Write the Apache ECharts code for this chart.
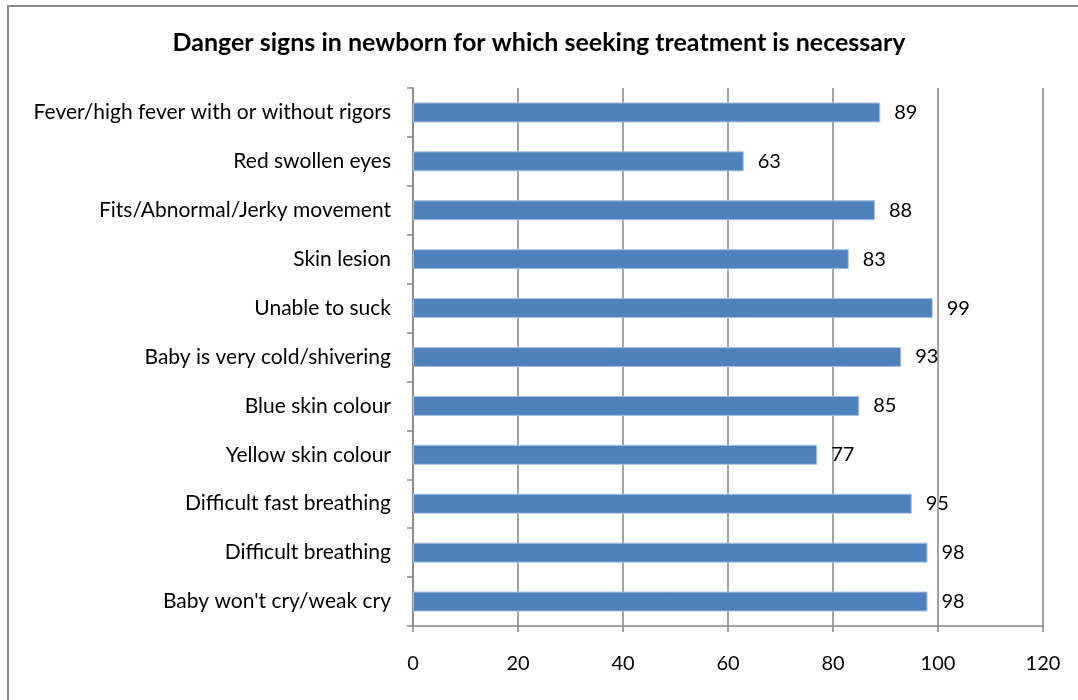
<!DOCTYPE html>
<html>
<head>
<meta charset="utf-8">
<script src="https://cdn.jsdelivr.net/npm/echarts@6/dist/echarts.min.js"></script>
<style>
  html, body { margin: 0; padding: 0; background: #fff; }
  #chart { width: 1078px; height: 700px; }
</style>
</head>
<body>
<div id="chart"></div>
<script>
// Danger signs, listed top to bottom
const categories = [
  'Fever/high fever with or without rigors',
  'Red swollen eyes',
  'Fits/Abnormal/Jerky movement',
  'Skin lesion',
  'Unable to suck',
  'Baby is very cold/shivering',
  'Blue skin colour',
  'Yellow skin colour',
  'Difficult fast breathing',
  'Difficult breathing',
  "Baby won't cry/weak cry"
];
// Percentage of respondents who would seek treatment
const values = [89, 63, 88, 83, 99, 93, 85, 77, 95, 98, 98];
const xTicks = { min: 0, max: 120, interval: 20 };

const font = 'Lato, "Open Sans", sans-serif';
const grey = '#868686';

const chart = echarts.init(document.getElementById('chart'));
chart.setOption({
  animation: false,
  backgroundColor: '#fff',
  title: {
    text: 'Danger signs in newborn for which seeking treatment is necessary',
    left: 'center',
    top: 25,
    textStyle: { fontFamily: font, fontSize: 25, fontWeight: 'bold', color: '#000' }
  },
  graphic: [{
    type: 'rect',
    shape: { x: 8, y: 6, width: 1090, height: 720 },
    style: { fill: 'none', stroke: '#8a8a8a', lineWidth: 2 },
    silent: true
  }],
  grid: { left: 413, right: 35, top: 88, bottom: 74 },
  xAxis: {
    type: 'value',
    min: xTicks.min,
    max: xTicks.max,
    interval: xTicks.interval,
    axisLine: { show: true, lineStyle: { color: grey, width: 1.5 } },
    axisTick: { show: true, length: 6, lineStyle: { color: grey, width: 1.5 } },
    splitLine: { show: true, lineStyle: { color: grey, width: 1.5 } },
    axisLabel: { margin: 28, fontFamily: font, fontSize: 20, color: '#000' }
  },
  yAxis: {
    type: 'category',
    data: categories,
    inverse: true,
    axisLine: { show: true, lineStyle: { color: grey, width: 1.5 } },
    axisTick: { show: true, length: 6, lineStyle: { color: grey, width: 1.5 } },
    splitLine: { show: false },
    axisLabel: { margin: 22, fontFamily: font, fontSize: 21, color: '#000' }
  },
  series: [{
    type: 'bar',
    data: values,
    barWidth: 20,
    itemStyle: { color: '#4f81bd', borderColor: '#a9c2e0', borderWidth: 1 },
    label: {
      show: true,
      position: 'right',
      distance: 14,
      fontFamily: font,
      fontSize: 20,
      color: '#000'
    }
  }]
});
</script>
</body>
</html>
